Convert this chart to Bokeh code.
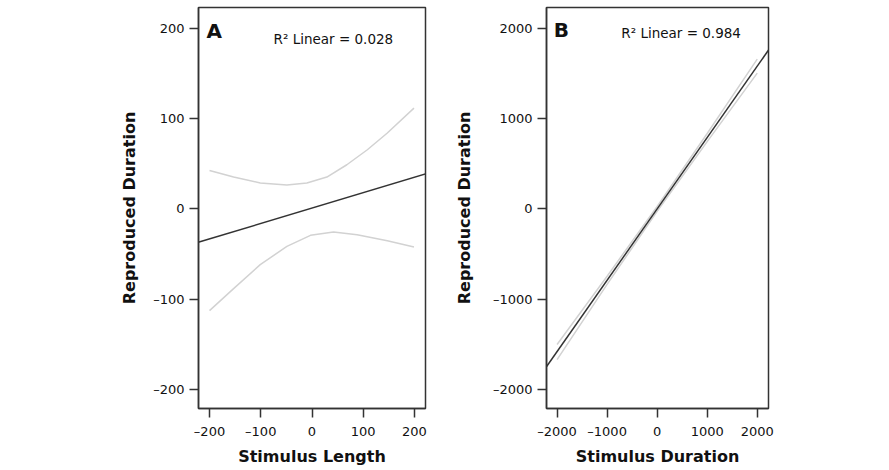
from bokeh.plotting import figure
from bokeh.layouts import row
from bokeh.models import FixedTicker, Label, Range1d
from bokeh.embed import file_html
from bokeh.resources import INLINE

FONT = "DejaVu Sans"

# ---- Panel A data ----
a_ticks = [-200, -100, 0, 100, 200]
a_fit_x = [-222, 223]
a_fit_y = [-37, 39]
a_up_x = [-200, -153, -101, -49, -10, 29, 68, 108, 147, 199]
a_up_y = [42.6, 35.3, 28.7, 26.4, 28.7, 35.3, 48.9, 65.5, 84.0, 111.6]
a_lo_x = [-200, -153, -101, -49, -3, 42, 88, 147, 199]
a_lo_y = [-112.6, -88.3, -61.7, -41.5, -29.3, -25.6, -28.5, -35.2, -42.1]
a_r2 = "R\u00b2  Linear = 0.028"

# ---- Panel B data ----
b_ticks = [-2000, -1000, 0, 1000, 2000]
b_fit_x = [-2230, 2230]
b_fit_y = [-1762, 1762]
b_up_x = [-2000, -1000, 0, 1000, 2000]
b_up_y = [-1502, -745, 28, 835, 1658]
b_lo_x = [-2000, -1000, 0, 1000, 2000]
b_lo_y = [-1668, -835, -28, 745, 1503]
b_r2 = "R\u00b2  Linear = 0.984"

AX = "#333333"
CI = "#d2d2d2"


def tick_text(t):
    return ("\u2013" + str(-t)) if t < 0 else str(t)


def make(xr, yr, ticks, xlabel, ylabel, fw, left, right, xlab_std, ylab_std):
    p = figure(frame_width=fw, frame_height=401,
               x_range=Range1d(*xr), y_range=Range1d(*yr),
               output_backend="svg", toolbar_location=None,
               min_border_left=left, min_border_right=right,
               min_border_top=7, min_border_bottom=52)
    p.grid.visible = False
    p.outline_line_color = AX
    p.outline_line_width = 1.5
    p.background_fill_color = "white"
    p.border_fill_color = "white"
    for ax in (p.xaxis[0], p.yaxis[0]):
        ax.ticker = FixedTicker(ticks=ticks)
        ax.major_label_overrides = {t: tick_text(t) for t in ticks}
        ax.minor_tick_line_color = None
        ax.major_tick_in = 0
        ax.major_tick_out = 9
        ax.major_tick_line_color = AX
        ax.major_tick_line_width = 1.5
        ax.axis_line_color = AX
        ax.axis_line_width = 1.5
        ax.major_label_text_font = FONT
        ax.major_label_text_font_size = "13px"
        ax.major_label_text_color = "#111111"
        ax.axis_label_text_font = FONT
        ax.axis_label_text_font_size = "16px"
        ax.axis_label_text_font_style = "bold"
        ax.axis_label_text_color = "#111111"
    p.xaxis.axis_label = xlabel
    p.yaxis.axis_label = ylabel
    p.xaxis.major_label_standoff = 6
    p.yaxis.major_label_standoff = 5
    p.xaxis.axis_label_standoff = xlab_std
    p.yaxis.axis_label_standoff = ylab_std
    return p


pa = make((-221.5, 221.5), (-221, 223), a_ticks, "Stimulus Length",
          "Reproduced Duration", 227, 198, 10, 5, 11)
pa.line(a_up_x, a_up_y, line_color=CI, line_width=1.5)
pa.line(a_lo_x, a_lo_y, line_color=CI, line_width=1.5)
pa.line(a_fit_x, a_fit_y, line_color=AX, line_width=1.5)
pa.add_layout(Label(x=-206, y=197, text="A", text_font=FONT, text_font_size="20px",
                    text_font_style="bold", text_baseline="middle", text_color="#111111"))
pa.add_layout(Label(x=-75, y=188, text=a_r2, text_font=FONT, text_font_size="13.5px",
                    text_baseline="middle", text_color="#111111"))

pb = make((-2211, 2225), (-2210, 2230), b_ticks, "Stimulus Duration",
          "Reproduced Duration", 222, 111, 20, 5, 16)
pb.line(b_up_x, b_up_y, line_color=CI, line_width=1.5)
pb.line(b_lo_x, b_lo_y, line_color=CI, line_width=1.5)
pb.line(b_fit_x, b_fit_y, line_color=AX, line_width=1.5)
pb.add_layout(Label(x=-2066, y=1980, text="B", text_font=FONT, text_font_size="20px",
                    text_font_style="bold", text_baseline="middle", text_color="#111111"))
pb.add_layout(Label(x=-716, y=1950, text=b_r2, text_font=FONT, text_font_size="13.5px",
                    text_baseline="middle", text_color="#111111"))

layout = row(pa, pb)
open("out.html", "w").write(file_html(layout, INLINE))
